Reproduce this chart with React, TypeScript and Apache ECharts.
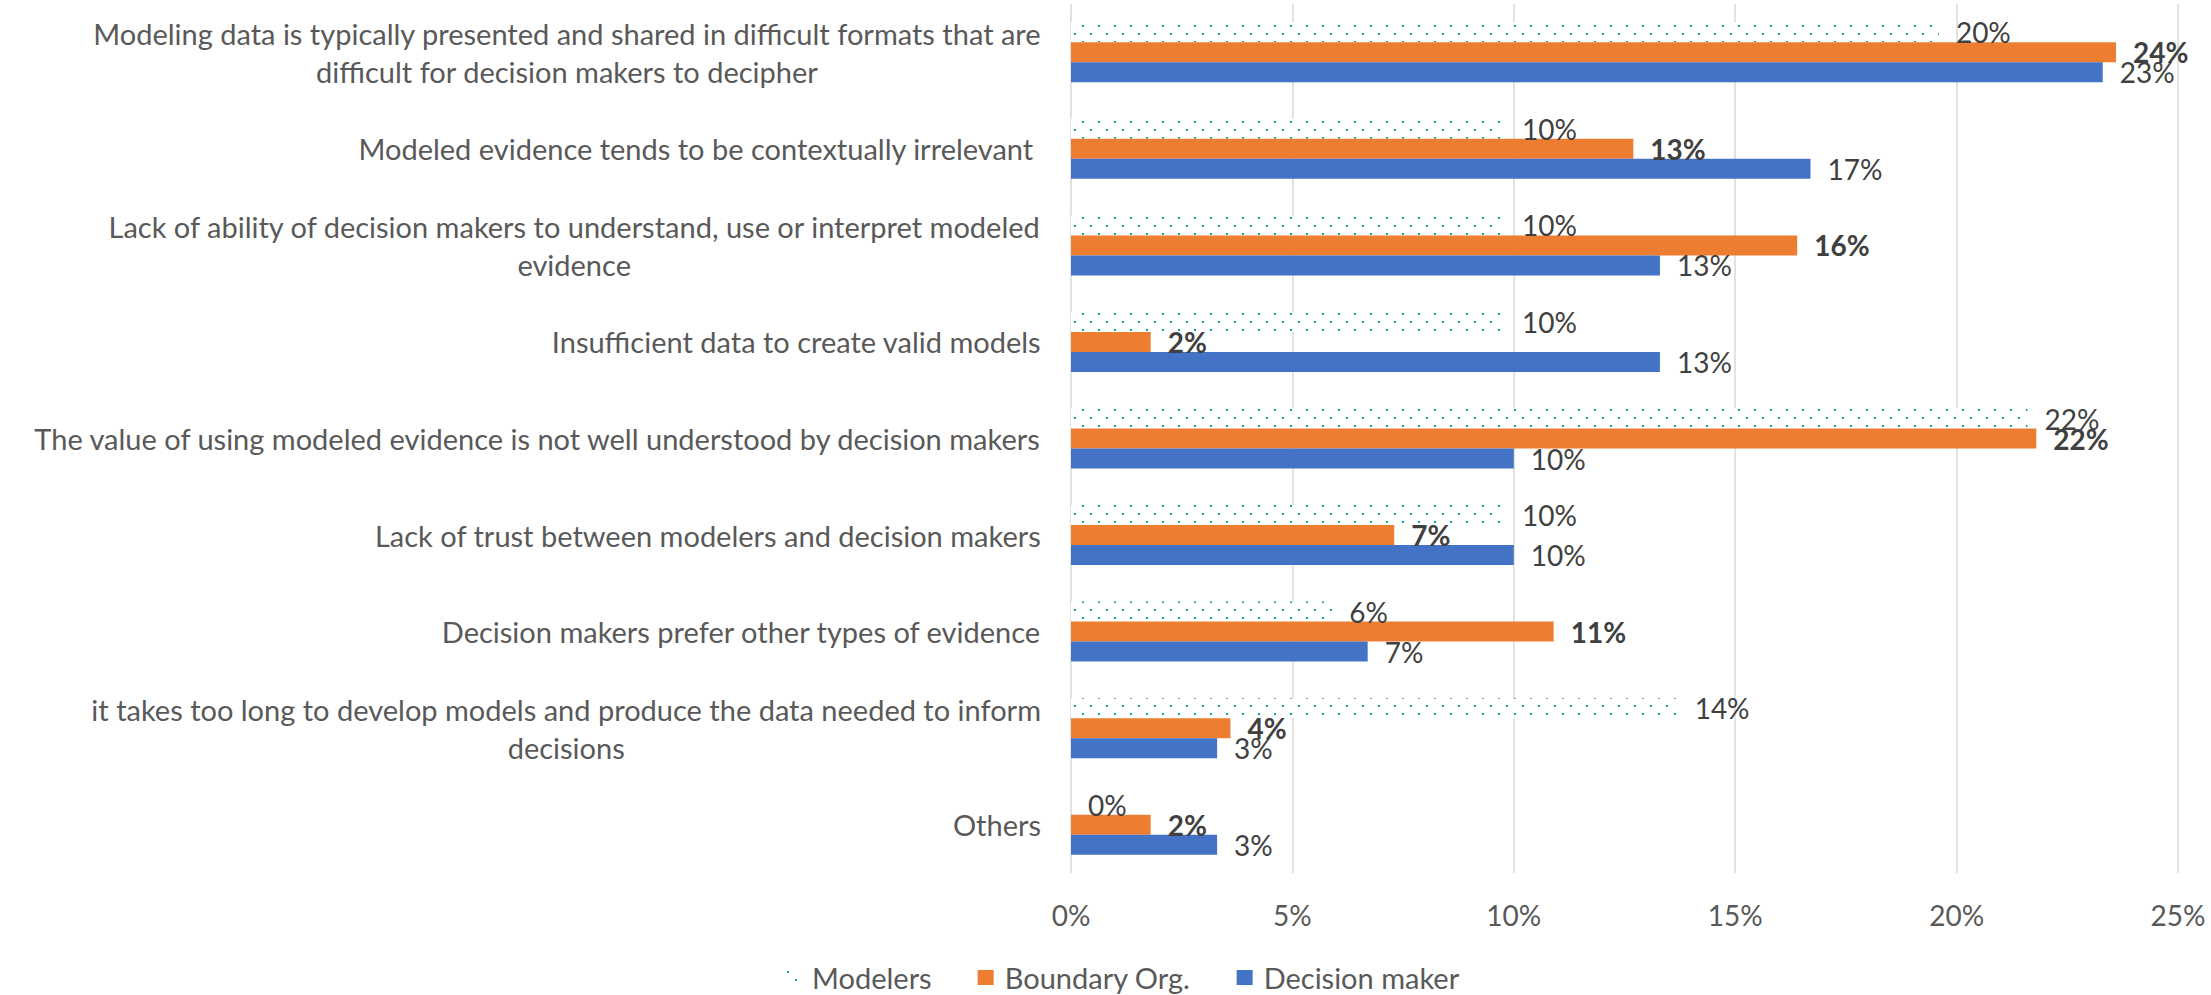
import React, { useEffect, useRef } from 'react';
import * as echarts from 'echarts';

const categories = [
  'Modeling data is typically presented and shared in difficult formats that are\ndifficult for decision makers to decipher',
  'Modeled evidence tends to be contextually irrelevant ',
  'Lack of ability of decision makers to understand, use or interpret modeled\nevidence',
  'Insufficient data to create valid models',
  'The value of using modeled evidence is not well understood by decision makers',
  'Lack of trust between modelers and decision makers',
  'Decision makers prefer other types of evidence',
  'it takes too long to develop models and produce the data needed to inform\ndecisions',
  'Others',
];

const modelers = [0.196, 0.098, 0.098, 0.098, 0.216, 0.098, 0.059, 0.137, 0];
const boundaryOrg = [0.236, 0.127, 0.164, 0.018, 0.218, 0.073, 0.109, 0.036, 0.018];
const decisionMaker = [0.233, 0.167, 0.133, 0.133, 0.1, 0.1, 0.067, 0.033, 0.033];

const seriesNames = ['Modelers', 'Boundary Org.', 'Decision maker'];
const axisMin = 0;
const axisMax = 0.25;
const axisStep = 0.05;

const FONT = 'Lato, "Open Sans", sans-serif';
const TEXT = '#595959';
const LABEL = '#404040';
const ORANGE = '#ED7D31';
const BLUE = '#4472C4';
const TEAL = '#0AA1A8';

function makeDotPattern(): any {
  const c = document.createElement('canvas');
  c.width = 16;
  c.height = 16;
  const ctx = c.getContext('2d')!;
  ctx.fillStyle = '#ffffff';
  ctx.fillRect(0, 0, 16, 16);
  ctx.fillStyle = TEAL;
  ctx.fillRect(10, 9, 2, 2);
  ctx.fillRect(2, 1, 2, 2);
  return { image: c, repeat: 'repeat', imageWidth: 16, imageHeight: 16 };
}

const pct = (v: number) => Math.round(v * 100) + '%';

export default function App() {
  const ref = useRef<HTMLDivElement>(null);
  useEffect(() => {
    if (!ref.current) return;
    const chart = echarts.init(ref.current, undefined, { renderer: 'svg' });
    const labelBase = {
      show: true,
      position: 'right',
      distance: 17,
      color: LABEL,
      fontFamily: FONT,
      fontSize: 28,
      formatter: (p: any) => pct(p.value),
    };
    chart.setOption({
      animation: false,
      backgroundColor: '#ffffff',
      grid: {
        left: 1071,
        right: 33,
        top: 4,
        bottom: 122,
        containLabel: false,
        outerBoundsMode: 'none',
      },
      legend: {
        data: seriesNames,
        left: 780,
        top: 958,
        itemWidth: 16,
        itemHeight: 15,
        itemGap: 46,
        icon: 'rect',
        textStyle: { color: TEXT, fontFamily: FONT, fontSize: 29, padding: [0, 0, 0, 6] },
      },
      xAxis: {
        type: 'value',
        min: axisMin,
        max: axisMax,
        interval: axisStep,
        axisLine: { show: false },
        axisTick: { show: false },
        splitLine: { show: true, lineStyle: { color: '#D9D9D9', width: 1.5 } },
        axisLabel: {
          formatter: (v: number) => pct(v),
          color: TEXT,
          fontFamily: FONT,
          fontSize: 28,
          margin: 28,
        },
      },
      yAxis: {
        type: 'category',
        data: categories,
        inverse: true,
        axisTick: { show: false },
        axisLine: { show: false },
        axisLabel: {
          interval: 0,
          margin: 30,
          color: TEXT,
          fontFamily: FONT,
          fontSize: 29,
          lineHeight: 38,
          formatter: (v: string) =>
            v
              .split('\n')
              .map((l) => `{c|${l}}`)
              .join('\n'),
          rich: {
            c: {
              align: 'center',
              color: TEXT,
              fontFamily: FONT,
              fontSize: 29,
              lineHeight: 38,
            },
          },
        },
      },
      series: [
        {
          type: 'bar',
          name: seriesNames[0],
          data: modelers,
          barWidth: 20,
          barGap: '0%',
          itemStyle: { color: makeDotPattern() },
          label: { ...labelBase },
        },
        {
          type: 'bar',
          name: seriesNames[1],
          data: boundaryOrg,
          barWidth: 20,
          barGap: '0%',
          itemStyle: { color: ORANGE },
          label: { ...labelBase, fontWeight: 'bold' },
        },
        {
          type: 'bar',
          name: seriesNames[2],
          data: decisionMaker,
          barWidth: 20,
          barGap: '0%',
          itemStyle: { color: BLUE },
          label: { ...labelBase },
        },
      ],
    });
    return () => chart.dispose();
  }, []);
  return (
    <div
      ref={ref}
      style={{ position: 'fixed', left: 0, top: 0, width: 2211, height: 995, background: '#fff' }}
    />
  );
}
